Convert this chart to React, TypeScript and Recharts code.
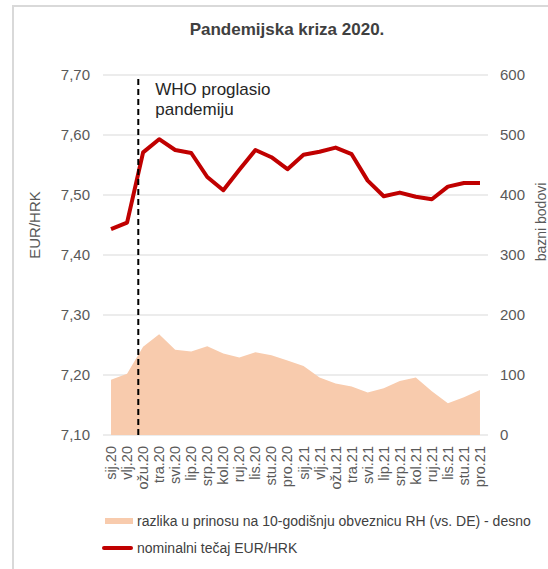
import React from 'react';
import {
  ComposedChart,
  Area,
  Line,
  XAxis,
  YAxis,
  CartesianGrid,
  ReferenceLine,
} from 'recharts';

const categories = [
  'sij.20', 'vlj.20', 'ožu.20', 'tra.20', 'svi.20', 'lip.20', 'srp.20', 'kol.20',
  'ruj.20', 'lis.20', 'stu.20', 'pro.20', 'sij.21', 'vlj.21', 'ožu.21', 'tra.21',
  'svi.21', 'lip.21', 'srp.21', 'kol.21', 'ruj.21', 'lis.21', 'stu.21', 'pro.21',
];

const eurHrk = [
  7.443, 7.454, 7.571, 7.593, 7.575, 7.57, 7.53, 7.508, 7.542, 7.575, 7.563, 7.543,
  7.567, 7.572, 7.579, 7.568, 7.524, 7.498, 7.504, 7.497, 7.493, 7.514, 7.52, 7.52,
];

const spread = [
  92, 102, 147, 168, 142, 139, 148, 136, 129, 138, 133, 124,
  115, 96, 86, 81, 71, 78, 90, 96, 73, 53, 63, 75,
];

const leftTicks = [7.1, 7.2, 7.3, 7.4, 7.5, 7.6, 7.7];
const rightTicks = [0, 100, 200, 300, 400, 500, 600];
const whoDeclarationPos = 1.7;

const titleText = 'Pandemijska kriza 2020.';
const leftAxisTitle = 'EUR/HRK';
const rightAxisTitle = 'bazni bodovi';
const whoLines = ['WHO proglasio', 'pandemiju'];
const spreadName = 'razlika u prinosu na 10-godišnju obveznicu RH (vs. DE) - desno';
const eurName = 'nominalni tečaj EUR/HRK';

const data = categories.map((c, i) => ({ i, label: c, eur: eurHrk[i], spread: spread[i] }));
const labelTicks = categories.map((_, i) => i);
const boundaryTicks = [...categories.map((_, i) => i - 0.5), categories.length - 0.5];
const xDomain = [-0.5, categories.length - 0.5];

const FONT = '"Liberation Sans", Arial, sans-serif';
const TICK_COLOR = '#595959';

const XTick = (props: any) => {
  const { x, y, payload } = props;
  return (
    <text
      x={x}
      y={y + 1}
      transform={`rotate(-90 ${x} ${y + 1})`}
      textAnchor="end"
      dominantBaseline="central"
      fontSize={14.5}
      fill={TICK_COLOR}
      fontFamily={FONT}
    >
      {categories[payload.value]}
    </text>
  );
};

const LeftTitle = () => (
  <text
    x={40}
    y={225}
    transform="rotate(-90 40 225)"
    textAnchor="middle"
    fontSize={15}
    fill={TICK_COLOR}
    fontFamily={FONT}
  >
    {leftAxisTitle}
  </text>
);

const RightTitle = () => (
  <text
    x={546}
    y={222}
    transform="rotate(-90 546 222)"
    textAnchor="middle"
    fontSize={14}
    fill={TICK_COLOR}
    fontFamily={FONT}
  >
    {rightAxisTitle}
  </text>
);

const WhoLabel = (props: any) => {
  const vb = props.viewBox || { x: 139, y: 75 };
  return (
    <text fontSize={17} fill="#262626" fontFamily={FONT}>
      {whoLines.map((t, k) => (
        <tspan key={k} x={vb.x + 17} y={vb.y + 20 + k * 19.5}>
          {t}
        </tspan>
      ))}
    </text>
  );
};

export default function App() {
  return (
    <div
      style={{
        position: 'absolute',
        left: 0,
        top: 0,
        width: 548,
        height: 569,
        background: '#fff',
        fontFamily: FONT,
        overflow: 'hidden',
      }}
    >
      <div style={{ position: 'absolute', left: 12, top: 5, width: 1.5, height: 564, background: '#d9d9d9' }} />
      <div style={{ position: 'absolute', left: 12, top: 5, width: 536, height: 1.5, background: '#d9d9d9' }} />
      <div
        style={{
          position: 'absolute',
          left: 87,
          top: 20,
          width: 400,
          textAlign: 'center',
          fontWeight: 'bold',
          fontSize: 17,
          lineHeight: '20px',
          color: '#404040',
        }}
      >
        {titleText}
      </div>
      <div style={{ position: 'absolute', left: 0, top: 0 }}>
        <ComposedChart
          width={548}
          height={569}
          data={data}
          margin={{ top: 75, right: 0, bottom: 74, left: 0 }}
        >
          <CartesianGrid vertical={false} stroke="#d9d9d9" yAxisId="left" xAxisId="bnd" />
          <XAxis
            xAxisId="bnd"
            type="number"
            dataKey="i"
            domain={xDomain}
            ticks={boundaryTicks}
            interval={0}
            tickFormatter={() => ''}
            height={0}
            tickSize={5}
            axisLine={{ stroke: '#d9d9d9' }}
            tickLine={{ stroke: '#d9d9d9' }}
            allowDataOverflow
          />
          <XAxis
            xAxisId="main"
            type="number"
            dataKey="i"
            domain={xDomain}
            ticks={labelTicks}
            interval={0}
            height={60}
            tick={<XTick />}
            tickSize={4}
            tickMargin={6}
            axisLine={false}
            tickLine={false}
            allowDataOverflow
          />
          <YAxis
            yAxisId="left"
            orientation="left"
            domain={[7.1, 7.7]}
            ticks={leftTicks}
            interval={0}
            width={103}
            axisLine={false}
            tickLine={false}
            tickMargin={7}
            tick={{ fill: TICK_COLOR, fontSize: 15, fontFamily: FONT }}
            tickFormatter={(v: number) => v.toFixed(2).replace('.', ',')}
            label={<LeftTitle />}
            allowDataOverflow
          />
          <YAxis
            yAxisId="right"
            orientation="right"
            domain={[0, 600]}
            ticks={rightTicks}
            interval={0}
            width={60}
            axisLine={false}
            tickLine={false}
            tickMargin={6}
            tick={{ fill: TICK_COLOR, fontSize: 15, fontFamily: FONT, textAnchor: 'start' }}
            label={<RightTitle />}
            allowDataOverflow
          />
          <Area
            xAxisId="main"
            yAxisId="right"
            type="linear"
            dataKey="spread"
            fill="#F8CBAD"
            fillOpacity={1}
            stroke="none"
            isAnimationActive={false}
            dot={false}
            activeDot={false}
          />
          <Line
            xAxisId="main"
            yAxisId="left"
            type="linear"
            dataKey="eur"
            stroke="#C00000"
            strokeWidth={4}
            strokeLinejoin="round"
            dot={false}
            activeDot={false}
            isAnimationActive={false}
          />
          <ReferenceLine
            xAxisId="main"
            yAxisId="left"
            x={whoDeclarationPos}
            stroke="#000"
            strokeWidth={2}
            strokeDasharray="6 4"
            label={<WhoLabel />}
          />
        </ComposedChart>
      </div>
      <div style={{ position: 'absolute', left: 105, top: 518, width: 28, height: 6, background: '#F8CBAD' }} />
      <div
        style={{
          position: 'absolute',
          left: 137,
          top: 512,
          fontSize: 14,
          lineHeight: '18px',
          color: '#404040',
          whiteSpace: 'nowrap',
        }}
      >
        {spreadName}
      </div>
      <div
        style={{
          position: 'absolute',
          left: 102,
          top: 546,
          width: 31,
          height: 4,
          borderRadius: 2,
          background: '#C00000',
        }}
      />
      <div
        style={{
          position: 'absolute',
          left: 137,
          top: 539,
          fontSize: 14,
          lineHeight: '18px',
          color: '#404040',
          whiteSpace: 'nowrap',
        }}
      >
        {eurName}
      </div>
    </div>
  );
}
